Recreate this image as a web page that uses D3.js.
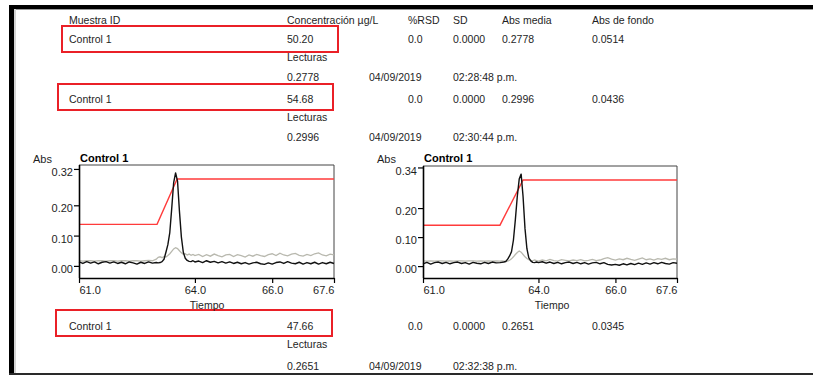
<!DOCTYPE html>
<html>
<head>
<meta charset="utf-8">
<script src="https://cdn.jsdelivr.net/npm/d3@7"></script>
<style>
  html, body { margin: 0; padding: 0; background: #fff; }
  svg { display: block; }
</style>
</head>
<body>
<svg id="chart" width="813" height="376"></svg>
<script>
// ---------------- Table data ----------------
const tableHeaders = ["Muestra ID", "Concentración µg/L", "%RSD", "SD", "Abs media", "Abs de fondo"];
const sampleIds = ["Control 1", "Control 1", "Control 1"];
const concentrations = ["50.20", "54.68", "47.66"];
const rsdValues = ["0.0", "0.0", "0.0"];
const sdValues = ["0.0000", "0.0000", "0.0000"];
const absMedia = ["0.2778", "0.2996", "0.2651"];
const absFondo = ["0.0514", "0.0436", "0.0345"];
const readingsLabel = "Lecturas";
const readings = ["0.2778", "0.2996", "0.2651"];
const readingDates = ["04/09/2019", "04/09/2019", "04/09/2019"];
const readingTimes = ["02:28:48 p.m.", "02:30:44 p.m.", "02:32:38 p.m."];

// ---------------- Chart data ----------------
const chartTitles = ["Control 1", "Control 1"];
const yAxisTitle = "Abs";
const xAxisTitle = "Tiempo";
const xTicks = [61.0, 64.0, 66.0, 67.6];
const yTicksLeft = [0.00, 0.10, 0.20, 0.32];
const yTicksRight = [0.00, 0.10, 0.20, 0.34];
const yDomainLeft = [-0.04, 0.333];
const yDomainRight = [-0.041, 0.345];
const xDomain = [61.0, 67.6];

const times = [
  61.0,61.1,61.2,61.3,61.4,61.5,61.6,61.7,61.8,61.9,
  62.0,62.1,62.2,62.3,62.4,62.5,62.6,62.7,62.8,62.9,
  63.0,63.05,63.1,63.15,63.2,63.25,63.3,63.35,63.4,63.45,
  63.5,63.55,63.6,63.65,63.7,63.75,63.8,63.85,63.9,63.95,
  64.0,64.1,64.2,64.3,64.4,64.5,64.6,64.7,64.8,64.9,
  65.0,65.1,65.2,65.3,65.4,65.5,65.6,65.7,65.8,65.9,
  66.0,66.1,66.2,66.3,66.4,66.5,66.6,66.7,66.8,66.9,
  67.0,67.1,67.2,67.3,67.4,67.5,67.6
];

// left chart: signal (black) and background (gray)
const signalLeft = [
  0.013,0.008,0.014,0.009,0.013,0.007,0.012,0.014,0.009,0.013,
  0.008,0.012,0.007,0.013,0.010,0.006,0.012,0.008,0.013,0.009,
  0.011,0.010,0.011,0.014,0.022,0.045,0.070,0.110,0.190,0.275,
  0.307,0.280,0.180,0.095,0.045,0.025,0.018,0.015,0.014,0.017,
  0.013,0.016,0.011,0.017,0.012,0.015,0.010,0.014,0.009,0.013,
  0.008,0.012,0.007,0.011,0.006,0.010,0.012,0.007,0.005,0.010,
  0.006,0.011,0.013,0.008,0.014,0.009,0.007,0.012,0.006,0.011,
  0.007,0.012,0.006,0.011,0.007,0.012,0.008
];
const backgroundLeft = [
  0.017,0.016,0.017,0.017,0.016,0.017,0.017,0.016,0.017,0.017,
  0.016,0.017,0.017,0.016,0.017,0.017,0.016,0.017,0.018,0.017,
  0.022,0.028,0.030,0.027,0.031,0.029,0.034,0.040,0.048,0.056,
  0.060,0.057,0.050,0.043,0.038,0.040,0.036,0.039,0.035,0.038,
  0.034,0.038,0.031,0.037,0.032,0.039,0.034,0.030,0.036,0.038,
  0.031,0.037,0.034,0.029,0.036,0.032,0.038,0.034,0.031,0.037,
  0.040,0.034,0.042,0.036,0.033,0.039,0.041,0.035,0.032,0.038,
  0.034,0.040,0.043,0.036,0.033,0.039,0.036
];
const windowTimesLeft = [61.0, 63.02, 63.54, 67.6];
const windowLeft = [0.137, 0.137, 0.287, 0.287];

// right chart
const signalRight = [
  0.008,0.013,0.007,0.012,0.014,0.009,0.013,0.008,0.012,0.014,
  0.009,0.012,0.007,0.013,0.010,0.008,0.013,0.009,0.014,0.011,
  0.012,0.013,0.014,0.016,0.024,0.035,0.050,0.090,0.160,0.240,
  0.300,0.317,0.240,0.130,0.060,0.028,0.018,0.013,0.012,0.014,
  0.012,0.015,0.010,0.014,0.009,0.013,0.008,0.012,0.014,0.009,
  0.013,0.008,0.012,0.007,0.011,0.013,0.008,0.012,0.006,0.004,
  0.006,0.003,0.008,0.004,0.009,0.005,0.010,0.006,0.011,0.007,
  0.012,0.008,0.013,0.009,0.007,0.012,0.010
];
const backgroundRight = [
  0.018,0.017,0.018,0.017,0.018,0.018,0.017,0.018,0.017,0.018,
  0.018,0.017,0.018,0.018,0.017,0.018,0.017,0.018,0.017,0.018,
  0.017,0.018,0.017,0.016,0.017,0.020,0.025,0.032,0.040,0.047,
  0.052,0.048,0.040,0.032,0.026,0.022,0.020,0.018,0.021,0.019,
  0.017,0.021,0.018,0.023,0.019,0.017,0.022,0.020,0.018,0.021,
  0.019,0.022,0.018,0.020,0.023,0.019,0.021,0.026,0.029,0.024,
  0.021,0.025,0.022,0.027,0.023,0.020,0.024,0.028,0.022,0.025,
  0.021,0.026,0.023,0.027,0.022,0.025,0.024
];
const windowTimesRight = [61.0, 63.0, 63.6, 67.6];
const windowRight = [0.141, 0.141, 0.297, 0.297];

// ---------------- Drawing ----------------
const FONT = "'Liberation Sans', Arial, Helvetica, sans-serif";
const svg = d3.select("#chart");
const W = 813, H = 376;

svg.append("rect").attr("width", W).attr("height", H).attr("fill", "#fff");

// page frame
svg.append("rect").attr("x", 9).attr("y", 5).attr("width", W - 9).attr("height", 4).attr("fill", "#000");
svg.append("rect").attr("x", 9).attr("y", 5).attr("width", 5).attr("height", 370).attr("fill", "#000");
svg.append("rect").attr("x", 14).attr("y", 9).attr("width", W - 14).attr("height", 1).attr("fill", "#9a9a9a");
svg.append("rect").attr("x", 14).attr("y", 9).attr("width", 2).attr("height", 364).attr("fill", "#d4d4d4");
svg.append("rect").attr("x", 9).attr("y", 373).attr("width", W - 9).attr("height", 2).attr("fill", "#2a2a2a");

// ---- table text ----
const colX = [69, 287, 408, 453, 502, 592];
const dateX = 369, timeX = 453;
const txt = (x, yc, s, opts = {}) => svg.append("text")
  .attr("x", x).attr("y", yc + 3.8)
  .attr("font-family", FONT).attr("font-size", opts.size || 10.5)
  .attr("font-weight", opts.weight || "normal")
  .attr("text-anchor", opts.anchor || "start")
  .attr("fill", opts.fill || "#1e1e1e")
  .text(s);

tableHeaders.forEach((h, i) => txt(colX[i], 20.5, h));

const rowY = [39, 99, 326];
const lectY = [57, 117, 344];
const readY = [77, 137, 366];
const boxes = [[62, 26, 276, 26], [58, 84, 275, 26], [56, 310, 276, 26]];

sampleIds.forEach((id, i) => {
  const cols = [id, concentrations[i], rsdValues[i], sdValues[i], absMedia[i], absFondo[i]];
  cols.forEach((c, j) => txt(colX[j], rowY[i], c));
  txt(colX[1], lectY[i], readingsLabel);
  txt(colX[1], readY[i], readings[i]);
  txt(dateX, readY[i], readingDates[i]);
  txt(timeX, readY[i], readingTimes[i]);
  const b = boxes[i];
  svg.append("rect").attr("x", b[0]).attr("y", b[1]).attr("width", b[2]).attr("height", b[3])
    .attr("fill", "none").attr("stroke", "#ea2027").attr("stroke-width", 2);
});

// ---- charts ----
function drawChart(cfg) {
  const g = svg.append("g");
  const x = d3.scaleLinear().domain(xDomain).range([cfg.x0, cfg.x1]);
  const y = d3.scaleLinear().domain(cfg.yDomain).range([cfg.bottom, cfg.top]);

  // frame (top & right)
  g.append("path")
    .attr("d", `M${cfg.x0},${cfg.top}H${cfg.x1}V${cfg.bottom}`)
    .attr("fill", "none").attr("stroke", "#444").attr("stroke-width", 1);

  const line = d3.line().x(d => x(d[0])).y(d => y(d[1]));
  const pairs = (ts, vs) => ts.map((t, i) => [t, vs[i]]);

  g.append("path").datum(pairs(cfg.windowT, cfg.window))
    .attr("d", line).attr("fill", "none").attr("stroke", "#ff3b3b").attr("stroke-width", 1.4);
  g.append("path").datum(pairs(times, cfg.background))
    .attr("d", line).attr("fill", "none").attr("stroke", "#b8b8ae").attr("stroke-width", 1.3);
  g.append("path").datum(pairs(times, cfg.signal))
    .attr("d", line).attr("fill", "none").attr("stroke", "#111").attr("stroke-width", 1.4)
    .attr("stroke-linejoin", "round");

  // y axis
  const yAxis = d3.axisLeft(y).tickValues(cfg.yTicks).tickFormat(d3.format(".2f")).tickSize(5).tickSizeOuter(0);
  const ya = g.append("g").attr("transform", `translate(${cfg.x0},0)`).call(yAxis);
  ya.select(".domain").attr("d", `M0.5,${cfg.top}V${cfg.bottom}`).attr("stroke", "#000").attr("stroke-width", 1.6);
  ya.selectAll(".tick line").attr("stroke", "#000").attr("stroke-width", 1.2);
  ya.selectAll(".tick text").attr("font-family", FONT).attr("font-size", 11).attr("fill", "#1e1e1e")
    .attr("x", -6).attr("dy", "0.6em");

  // x axis
  const xAxis = d3.axisBottom(x).tickValues(xTicks).tickFormat(d3.format(".1f")).tickSize(5).tickSizeOuter(0);
  const xa = g.append("g").attr("transform", `translate(0,${cfg.bottom})`).call(xAxis);
  xa.select(".domain").attr("stroke", "#000").attr("stroke-width", 1.6);
  xa.selectAll(".tick line").attr("stroke", "#000").attr("stroke-width", 1.2);
  xa.selectAll(".tick text").attr("font-family", FONT).attr("font-size", 11).attr("fill", "#1e1e1e")
    .attr("text-anchor", (d, i) => i === 0 ? "start" : (i === xTicks.length - 1 ? "end" : "middle"));

  // titles
  g.append("text").attr("x", cfg.absX).attr("y", 162.5).attr("font-family", FONT).attr("font-size", 11)
    .attr("fill", "#1e1e1e").text(yAxisTitle);
  g.append("text").attr("x", cfg.x0 + 1).attr("y", 161.5).attr("font-family", FONT).attr("font-size", 11)
    .attr("font-weight", "bold").attr("fill", "#000").text(cfg.title);
  g.append("text").attr("x", cfg.tiempoX).attr("y", 308.5).attr("font-family", FONT).attr("font-size", 10.5)
    .attr("text-anchor", "middle").attr("fill", "#1e1e1e").text(xAxisTitle);
}

drawChart({
  x0: 79, x1: 334, top: 165, bottom: 278, absX: 33, tiempoX: 207,
  yDomain: yDomainLeft, yTicks: yTicksLeft, title: chartTitles[0],
  signal: signalLeft, background: backgroundLeft, windowT: windowTimesLeft, window: windowLeft
});
drawChart({
  x0: 423, x1: 677, top: 166, bottom: 278, absX: 377, tiempoX: 552,
  yDomain: yDomainRight, yTicks: yTicksRight, title: chartTitles[1],
  signal: signalRight, background: backgroundRight, windowT: windowTimesRight, window: windowRight
});
</script>
</body>
</html>
